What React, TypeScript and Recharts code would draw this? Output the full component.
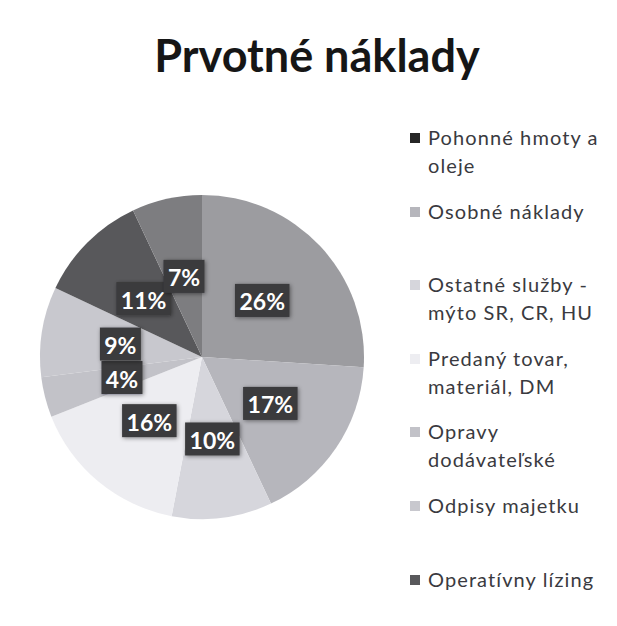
import React from 'react';
import { PieChart, Pie, Cell, Legend } from 'recharts';

const title = 'Prvotné náklady';

// slices clockwise from 12 o'clock; the source legend only lists the first seven
const categories = [
  'Pohonné hmoty a oleje',
  'Osobné náklady',
  'Ostatné služby - mýto SR, CR, HU',
  'Predaný tovar, materiál, DM',
  'Opravy dodávateľské',
  'Odpisy majetku',
  'Operatívny lízing',
  'Ostatné',
];
const shares = [26, 17, 10, 16, 4, 9, 11, 7];
const sliceColors = ['#9c9ca0', '#b6b6bc', '#d6d6dc', '#ededf1', '#c2c2c8', '#c8c8ce', '#58585b', '#7d7d80'];
const legendCount = 7;

const chartData = categories.map((name, i) => ({ name, value: shares[i] }));

const RADIAN = Math.PI / 180;

function PercentLabel(props: any) {
  const { cx, cy, midAngle, outerRadius, value } = props;
  const r = outerRadius * 0.51;
  const x = cx + r * Math.cos(-midAngle * RADIAN);
  const y = cy + r * Math.sin(-midAngle * RADIAN);
  const text = `${value}%`;
  const w = text.length * 13.5 + 14;
  const h = 33;
  return (
    <g>
      <rect x={x - w / 2} y={y - h / 2} width={w} height={h} fill="#3a3a3c" filter="url(#lblShadow)" />
      <text
        x={x}
        y={y + 1}
        textAnchor="middle"
        dominantBaseline="central"
        fill="#ffffff"
        fontFamily="Lato, sans-serif"
        fontWeight={700}
        fontSize={23}
      >
        {text}
      </text>
    </g>
  );
}

function LegendList({ payload }: any) {
  // keep the data order, not the legend's default sort
  const items = [...(payload ?? [])]
    .sort((a: any, b: any) => categories.indexOf(a.value) - categories.indexOf(b.value))
    .slice(0, legendCount);
  return (
    <div style={{ position: 'relative', width: 200, height: 626 }}>
      {items.map((entry: any, i: number) => (
        <div
          key={entry.value}
          style={{ position: 'absolute', left: 0, top: 123 + i * 73.6, width: 200 }}
        >
          <span
            style={{
              position: 'absolute',
              left: 6,
              top: 10,
              width: 10,
              height: 10,
              background: i === 0 ? '#262626' : entry.color,
            }}
          />
          <div
            style={{
              marginLeft: 24,
              width: 180,
              fontFamily: 'Lato, sans-serif',
              fontSize: 20,
              lineHeight: '28px',
              letterSpacing: 1.1,
              color: '#3a3a40',
            }}
          >
            {entry.value}
          </div>
        </div>
      ))}
    </div>
  );
}

export default function App() {
  return (
    <div style={{ position: 'absolute', left: 0, top: 0, width: 617, height: 626, background: '#ffffff' }}>
      <div
        style={{
          position: 'absolute',
          left: 0,
          top: 33,
          width: 634,
          textAlign: 'center',
          fontFamily: 'Lato, sans-serif',
          fontWeight: 700,
          fontSize: 45,
          lineHeight: '45px',
          color: '#161616',
        }}
      >
        {title}
      </div>
      <PieChart width={617} height={626} margin={{ top: 0, right: 0, bottom: 0, left: 0 }}>
        <defs>
          <filter id="lblShadow" x="-20%" y="-20%" width="140%" height="140%">
            <feDropShadow dx="1" dy="1" stdDeviation="2" floodColor="#000" floodOpacity="0.45" />
          </filter>
        </defs>
        <Pie
          data={chartData}
          dataKey="value"
          nameKey="name"
          cx={202}
          cy={357}
          outerRadius={162}
          startAngle={90}
          endAngle={-270}
          stroke="none"
          label={PercentLabel}
          labelLine={false}
          isAnimationActive={false}
        >
          {chartData.map((d, i) => (
            <Cell key={d.name} fill={sliceColors[i]} />
          ))}
        </Pie>
        <Legend
          layout="vertical"
          align="right"
          verticalAlign="top"
          content={LegendList}
          wrapperStyle={{ position: 'absolute', left: 404, top: 0, width: 200 }}
        />
      </PieChart>
    </div>
  );
}
